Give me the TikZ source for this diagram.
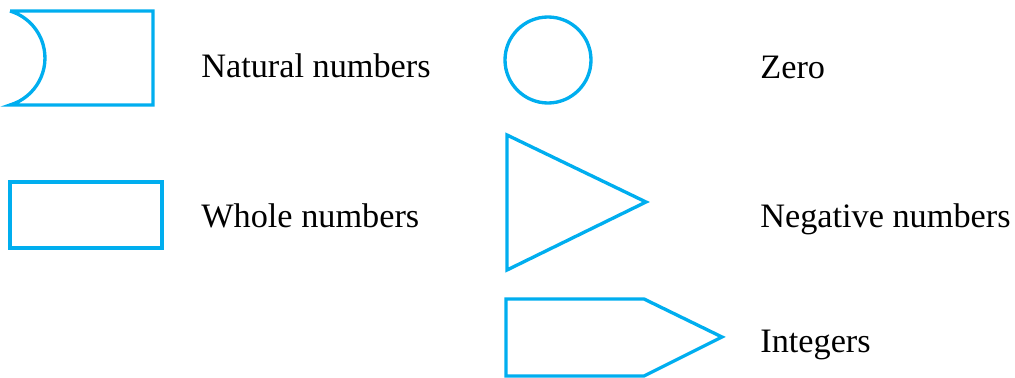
\documentclass[tikz,border=0pt]{standalone}
\usepackage{fontspec}
\setmainfont{Liberation Serif}
\usepackage{tikz}
\definecolor{legendblue}{RGB}{0,174,239}

\begin{document}
\begin{tikzpicture}[
  x=0.02cm, y=-0.02cm,
  sym/.style={draw=legendblue, line width=1.9pt, line join=miter},
  lbl/.style={anchor=base west, inner sep=0pt, font=\fontsize{19.5}{23}\selectfont},
]
\useasboundingbox (0,0) rectangle (1015,378);
% Symbols
\draw[sym] (10,11) -- (153,11) -- (153,105) -- (10,105)
  arc[start angle=73.3, end angle=-73.3, radius=49.06];
\draw[sym] (10,182) rectangle (162,248);
\draw[sym] (548,60) circle[radius=43];
\draw[sym] (507,135) -- (646,202) -- (507,270) -- cycle;
\draw[sym] (506,299) -- (644,299) -- (722,337) -- (644,376) -- (506,376) -- cycle;
% Labels
\node[lbl] (natural) at (201,78) {Natural numbers};
\node[lbl] (whole) at (201,228) {Whole numbers};
\node[lbl] (zero) at (760,79) {Zero};
\node[lbl] (negative) at (760,228) {Negative numbers};
\node[lbl] (integers) at (760,353) {Integers};
\end{tikzpicture}
\end{document}
